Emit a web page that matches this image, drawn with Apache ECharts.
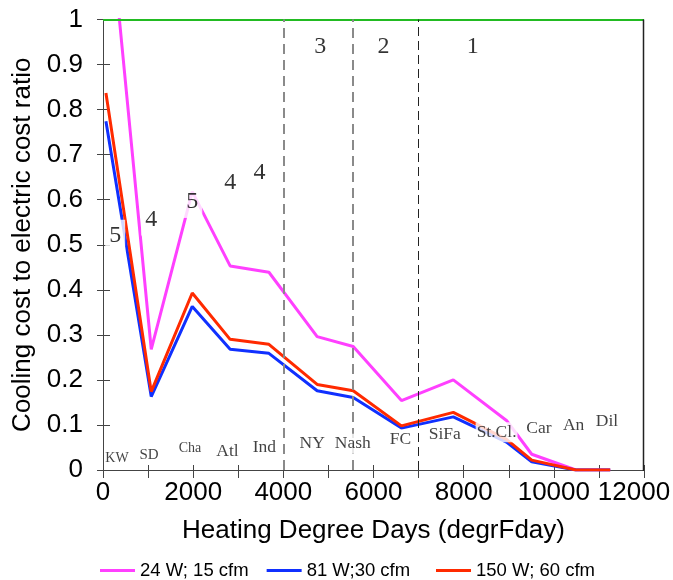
<!DOCTYPE html>
<html>
<head>
<meta charset="utf-8">
<script src="https://cdn.jsdelivr.net/npm/echarts@6/dist/echarts.min.js"></script>
<style>
  html, body { margin: 0; padding: 0; background: #fff; overflow: hidden; }
  #chart { width: 673px; height: 580px; }
</style>
</head>
<body>
<div id="chart"></div>
<script>
// Cities ordered by heating degree days
const cities = ['KW', 'SD', 'Cha', 'Atl', 'Ind', 'NY', 'Nash', 'FC', 'SiFa', 'St.Cl.', 'Car', 'An', 'Dil'];
const heatingDegreeDays = [65, 1070, 1980, 2820, 3680, 4750, 5550, 6620, 7770, 8950, 9510, 10490, 11250];

// Cooling cost / electric cost ratio per fan configuration
const ratio24W15cfm = [1.31, 0.268, 0.618, 0.453, 0.439, 0.296, 0.274, 0.154, 0.200, 0.110, 0.035, 0, 0];
const ratio81W30cfm = [0.774, 0.163, 0.363, 0.268, 0.259, 0.176, 0.161, 0.093, 0.118, 0.062, 0.018, 0, 0];
const ratio150W60cfm = [0.837, 0.174, 0.393, 0.290, 0.279, 0.190, 0.176, 0.098, 0.128, 0.068, 0.022, 0, 0];

const seriesNames = ['24 W; 15 cfm', '81 W;30 cfm', '150 W; 60 cfm'];

// Climate zone boundaries (HDD) and zone numbers
const zoneBoundaries = [4000, 5550, 7000];
const zoneLabels = [
  [4820, 0.94, '3'], [6220, 0.94, '2'], [8200, 0.94, '1'],
  [270, 0.52, '5'], [1070, 0.556, '4'], [1980, 0.595, '5'], [2820, 0.637, '4'], [3470, 0.659, '4']
];

// City name annotations placed just above the x axis
const cityLabelPos = [
  [310, 0.027], [1020, 0.033], [1930, 0.049], [2760, 0.042], [3580, 0.051], [4640, 0.058],
  [5540, 0.058], [6600, 0.067], [7580, 0.080], [8730, 0.084], [9670, 0.093], [10440, 0.100], [11180, 0.107]
];

const pairs = (ys) => heatingDegreeDays.map((x, i) => [x, ys[i]]);

const sansFont = '"Liberation Sans", Arial, sans-serif';
const serifFont = '"Liberation Serif", "Times New Roman", serif';
const smallCities = ['KW', 'SD', 'Cha'];

const cityData = cities.map((c, i) => ({
  value: [cityLabelPos[i][0], cityLabelPos[i][1], c],
  label: { fontSize: smallCities.includes(c) ? (c === 'SD' ? 15 : 14) : 17.5 }
}));

const chart = echarts.init(document.getElementById('chart'), null, { renderer: 'canvas' });

const X_MIN = 0, X_MAX = 12000, Y_MIN = 0, Y_MAX = 1;
const baseX = { type: 'value', min: X_MIN, max: X_MAX, interval: 1000 };
const baseY = { type: 'value', min: Y_MIN, max: Y_MAX, interval: 0.1 };
const axisColor = '#444';

const legendCommon = {
  top: 556,
  icon: 'rect',
  itemWidth: 35,
  itemHeight: 3,
  itemGap: 18,
  textStyle: { fontFamily: sansFont, fontSize: 18.5, color: '#000' }
};

chart.setOption({
  animation: false,
  backgroundColor: '#fff',
  grid: {
    left: 103, right: 29, top: 19.5, bottom: 110,
    containLabel: false, outerBoundsMode: 'none'
  },
  legend: [
    Object.assign({ data: seriesNames.slice(0, 2), left: 95 }, legendCommon),
    Object.assign({ data: seriesNames.slice(2), left: 431 }, legendCommon)
  ],
  xAxis: [
    Object.assign({}, baseX, {
      position: 'bottom',
      name: 'Heating Degree Days (degrFday)',
      nameLocation: 'middle',
      nameGap: 48,
      nameTextStyle: { fontFamily: sansFont, fontSize: 26, color: '#000' },
      axisLine: { show: true, onZero: false, lineStyle: { color: axisColor, width: 1 } },
      axisTick: { show: true, length: 8, lineStyle: { color: axisColor } },
      axisLabel: {
        fontFamily: sansFont, fontSize: 26, color: '#000', margin: 10,
        formatter: v => (v % 2000 !== 0 ? '' : (v === 12000 ? '{edge|' + v + '}' : String(v))),
        rich: { edge: { fontFamily: sansFont, fontSize: 26, color: '#000', padding: [0, 20, 0, 0] } }
      },
      splitLine: { show: false }
    }),
    Object.assign({}, baseX, {
      position: 'bottom',
      axisLine: { show: false, onZero: false },
      axisTick: { show: true, inside: true, length: 5, lineStyle: { color: axisColor } },
      axisLabel: { show: false },
      splitLine: { show: false }
    })
  ],
  yAxis: [
    Object.assign({}, baseY, {
      position: 'left',
      name: 'Cooling cost to electric cost ratio',
      nameLocation: 'middle',
      nameGap: 61,
      nameTextStyle: { fontFamily: sansFont, fontSize: 26, color: '#000' },
      axisLine: { show: true, onZero: false, lineStyle: { color: axisColor, width: 1 } },
      axisTick: { show: true, length: 6, lineStyle: { color: axisColor } },
      axisLabel: {
        fontFamily: sansFont, fontSize: 26, color: '#000', margin: 20,
        formatter: v => String(Math.round(v * 10) / 10)
      },
      splitLine: { show: false }
    }),
    Object.assign({}, baseY, {
      position: 'left',
      axisLine: { show: false, onZero: false },
      axisTick: { show: true, inside: true, length: 7, lineStyle: { color: axisColor } },
      axisLabel: { show: false },
      splitLine: { show: false }
    })
  ],
  series: [
    {
      name: seriesNames[0],
      type: 'line',
      data: pairs(ratio24W15cfm),
      showSymbol: false,
      symbol: 'none',
      clip: true,
      color: '#ff40ff',
      lineStyle: { color: '#ff40ff', width: 3 },
      z: 3,
      markLine: {
        silent: true,
        symbol: 'none',
        label: { show: false },
        data: [
          { yAxis: 1, lineStyle: { color: '#22bb22', width: 2, type: 'solid' } },
          { xAxis: zoneBoundaries[0], lineStyle: { color: '#8a8a8a', width: 2, type: [10, 6] } },
          { xAxis: zoneBoundaries[1], lineStyle: { color: '#8a8a8a', width: 2, type: [10, 6] } },
          { xAxis: zoneBoundaries[2], lineStyle: { color: '#222', width: 1, type: [9, 5] } }
        ]
      }
    },
    {
      name: seriesNames[1],
      type: 'line',
      data: pairs(ratio81W30cfm),
      showSymbol: false,
      symbol: 'none',
      clip: true,
      color: '#1030ff',
      lineStyle: { color: '#1030ff', width: 3 },
      z: 3
    },
    {
      name: seriesNames[2],
      type: 'line',
      data: pairs(ratio150W60cfm),
      showSymbol: false,
      symbol: 'none',
      clip: true,
      color: '#ff2a00',
      lineStyle: { color: '#ff2a00', width: 3 },
      z: 4
    },
    {
      name: 'zones',
      type: 'scatter',
      data: zoneLabels,
      symbolSize: 1,
      itemStyle: { color: 'rgba(0,0,0,0)' },
      z: 10,
      silent: true,
      label: {
        show: true,
        position: 'inside',
        formatter: p => p.data[2],
        fontFamily: serifFont,
        fontSize: 24,
        color: '#000',
        backgroundColor: '#fff',
        padding: [4, 4]
      }
    },
    {
      name: 'cities',
      type: 'scatter',
      data: cityData,
      symbolSize: 1,
      itemStyle: { color: 'rgba(0,0,0,0)' },
      z: 10,
      silent: true,
      label: {
        show: true,
        position: 'inside',
        formatter: p => p.data.value[2],
        fontFamily: serifFont,
        color: '#111',
        backgroundColor: '#fff',
        padding: [1, 1]
      }
    }
  ]
});

// Right-hand edge of the plot frame, placed from the axis scales
const topRight = chart.convertToPixel({ gridIndex: 0 }, [X_MAX, Y_MAX]);
const bottomRight = chart.convertToPixel({ gridIndex: 0 }, [X_MAX, Y_MIN]);
chart.setOption({
  graphic: [{
    type: 'line',
    silent: true,
    z: 100,
    shape: {
      x1: Math.round(topRight[0]) - 0.5, y1: topRight[1],
      x2: Math.round(bottomRight[0]) - 0.5, y2: bottomRight[1] + 1
    },
    style: { stroke: '#222', lineWidth: 1.5 }
  }]
});
</script>
</body>
</html>
